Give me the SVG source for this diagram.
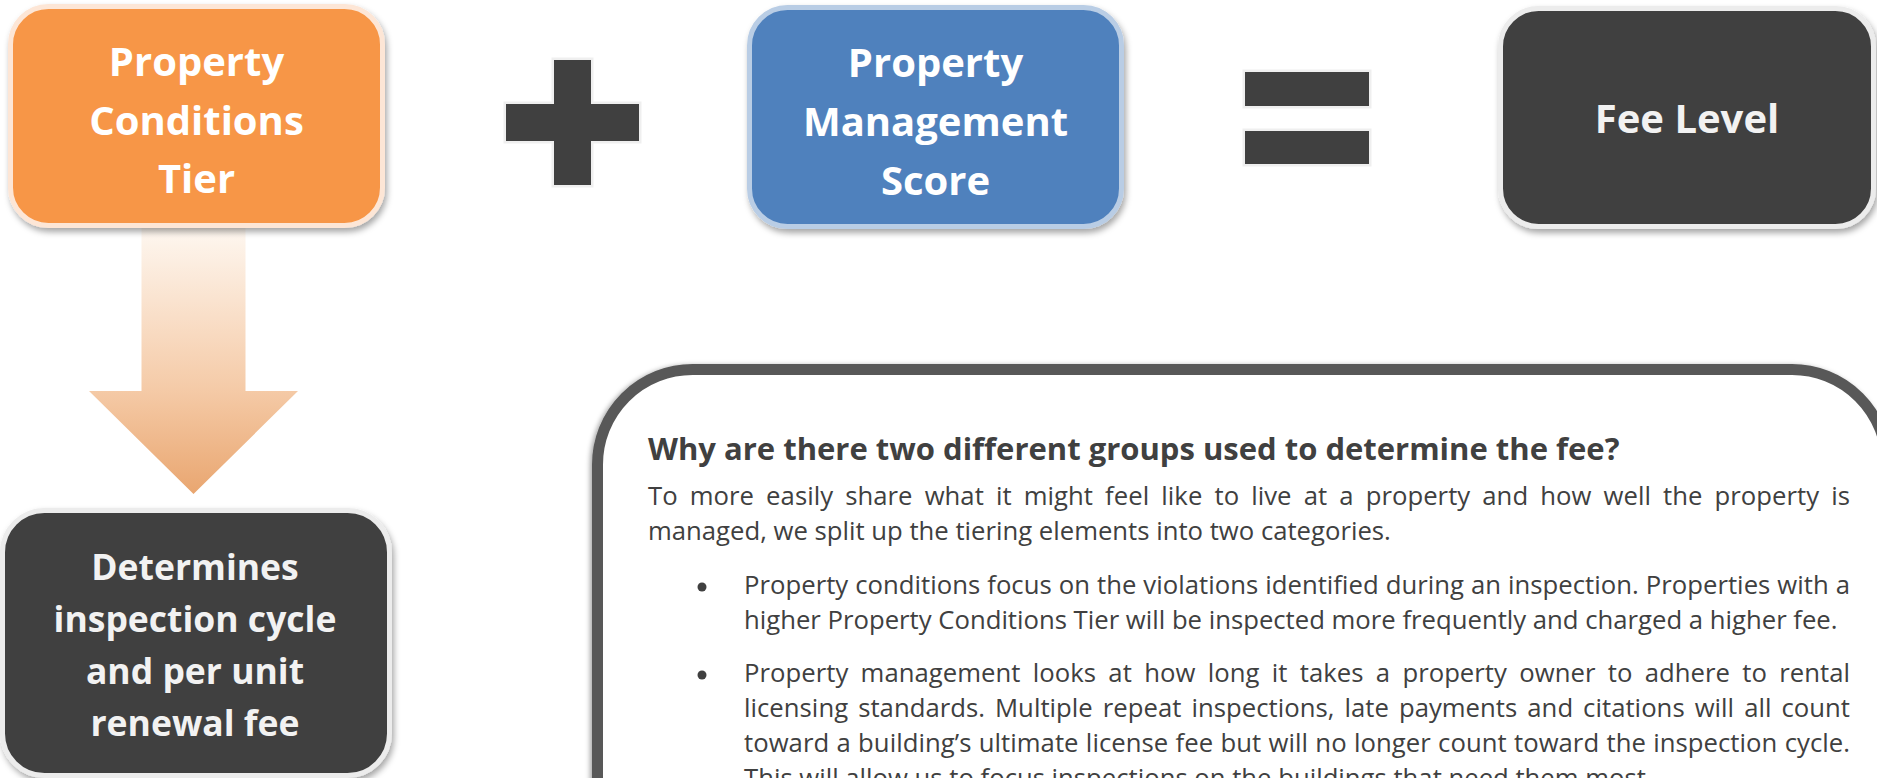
<svg xmlns="http://www.w3.org/2000/svg" width="1877" height="778" viewBox="0 0 1877 778">
<defs>
<style>
.lbl{font-family:"Open Sans","Liberation Sans",sans-serif;font-weight:700;font-size:40px;text-anchor:middle;fill:#ffffff}
.lbl-d{fill:#f2f2f2}
.lbl-s{font-size:35.5px}
.body{font-family:"Open Sans","Liberation Sans",sans-serif;font-size:25.7px;fill:#404040}
.head{font-weight:700;font-size:31px}
.sym{fill:#404040;stroke:#efefef;stroke-width:5;paint-order:stroke}
.box{stroke-width:5}
</style>
<filter id="sh" x="-10%" y="-10%" width="125%" height="130%">
<feDropShadow dx="2" dy="4" stdDeviation="3" flood-color="#000" flood-opacity="0.35"/>
</filter>
<filter id="psh" x="-5%" y="-10%" width="110%" height="130%">
<feDropShadow dx="-2" dy="1" stdDeviation="2.5" flood-color="#000" flood-opacity="0.35"/>
</filter>
<linearGradient id="arrowGrad" gradientUnits="userSpaceOnUse" x1="0" y1="228" x2="0" y2="494">
<stop offset="0" stop-color="#fef7f0"/>
<stop offset="0.6" stop-color="#f5cba8"/>
<stop offset="1" stop-color="#e9a670"/>
</linearGradient>
</defs>
<rect width="1877" height="778" fill="#ffffff"/>

<g id="connectors">
<polygon id="arrow-down" points="141.5,228 245.5,228 245.5,391 298,391 193.5,494 89,391 141.5,391" fill="url(#arrowGrad)"/>
</g>

<g id="node-conditions">
<rect class="box" x="10.5" y="6.5" width="372" height="219" rx="38" fill="#f79646" stroke="#fde6d6" filter="url(#sh)"/>
<text class="lbl" x="196.5" y="76">Property</text>
<text class="lbl" x="196.5" y="134.5">Conditions</text>
<text class="lbl" x="196.5" y="193">Tier</text>
</g>

<g id="node-plus">
<polygon class="sym" points="554,60 591,60 591,104 639,104 639,141 591,141 591,185 554,185 554,141 506,141 506,104 554,104"/>
</g>

<g id="node-management">
<rect class="box" x="749.5" y="7.5" width="372" height="219" rx="38" fill="#4f81bd" stroke="#b9cde5" filter="url(#sh)"/>
<text class="lbl" x="935.5" y="77">Property</text>
<text class="lbl" x="935.5" y="136">Management</text>
<text class="lbl" x="935.5" y="195">Score</text>
</g>

<g id="node-equals">
<rect class="sym" x="1245" y="72" width="124" height="34"/>
<rect class="sym" x="1245" y="131" width="124" height="33"/>
</g>

<g id="node-fee">
<rect class="box" x="1500.5" y="8.5" width="373" height="218" rx="38" fill="#404040" stroke="#ececec" filter="url(#sh)"/>
<text class="lbl lbl-d" x="1687" y="133">Fee Level</text>
</g>

<g id="node-determines">
<rect class="box" x="2.5" y="510.5" width="387" height="265" rx="42" fill="#404040" stroke="#ececec" filter="url(#sh)"/>
<text class="lbl lbl-d lbl-s" x="195" y="580">Determines</text>
<text class="lbl lbl-d lbl-s" x="195" y="632">inspection cycle</text>
<text class="lbl lbl-d lbl-s" x="195" y="684">and per unit</text>
<text class="lbl lbl-d lbl-s" x="195" y="736">renewal fee</text>
</g>

<g id="node-panel">
<rect x="597.5" y="369.5" width="1289.5" height="520" rx="95" fill="#ffffff" stroke="#595959" stroke-width="11" filter="url(#psh)"/>
<text class="body head" x="648" y="460">Why are there two different groups used to determine the fee?</text>
<text class="body" x="648" y="505" word-spacing="5.4" textLength="1202" lengthAdjust="spacing">To more easily share what it might feel like to live at a property and how well the property is</text>
<text class="body" x="648" y="540">managed, we split up the tiering elements into two categories.</text>
<circle cx="702" cy="587" r="4.5" fill="#404040"/>
<text class="body" x="744" y="594" word-spacing="0.3" textLength="1106" lengthAdjust="spacing">Property conditions focus on the violations identified during an inspection. Properties with a</text>
<text class="body" x="744" y="629">higher Property Conditions Tier will be inspected more frequently and charged a higher fee.</text>
<circle cx="702" cy="675" r="4.5" fill="#404040"/>
<text class="body" x="744" y="682" word-spacing="5.6" textLength="1106" lengthAdjust="spacing">Property management looks at how long it takes a property owner to adhere to rental</text>
<text class="body" x="744" y="717" word-spacing="3.3" textLength="1106" lengthAdjust="spacing">licensing standards. Multiple repeat inspections, late payments and citations will all count</text>
<text class="body" x="744" y="752" word-spacing="0.6" textLength="1106" lengthAdjust="spacing">toward a building’s ultimate license fee but will no longer count toward the inspection cycle.</text>
<text class="body" x="744" y="787">This will allow us to focus inspections on the buildings that need them most.</text>
</g>
</svg>
